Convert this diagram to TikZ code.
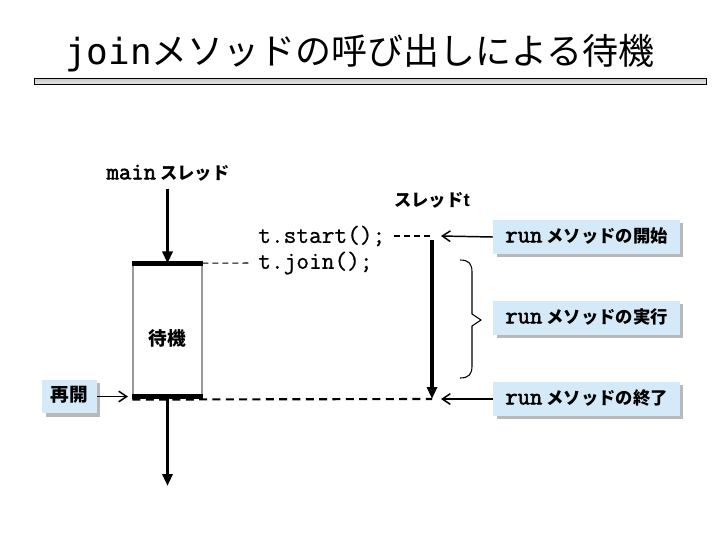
\documentclass[tikz,border=0pt]{standalone}
\usepackage{fontspec}
\setmainfont{Liberation Sans}
\newfontfamily\jp{Noto Sans CJK JP}
\newfontfamily\tmono{DejaVu Sans Mono}
\newfontfamily\cm[FakeBold=0.8]{Latin Modern Mono}
\newfontfamily\cmb[FakeBold=2.2]{Latin Modern Mono}
\usetikzlibrary{arrows.meta,shadows,calc}
\definecolor{boxblue}{RGB}{213,234,248}
\definecolor{shadowgray}{RGB}{185,185,185}
\tikzset{
  bluebox/.style={fill=boxblue, inner sep=0pt, text height=10pt, text depth=2pt,
    drop shadow={shadow xshift=2.6pt, shadow yshift=-2.6pt, fill=shadowgray, opacity=1}},
  runbox/.style={bluebox, minimum width=140pt, minimum height=25.5pt},
  lbl/.style={inner sep=1pt, font=\jp\bfseries\fontsize{13pt}{15pt}\selectfont},
  codetext/.style={inner sep=0pt, anchor=west, font=\cm\fontsize{18.5pt}{20pt}\selectfont},
  flow/.style={line width=2.3pt, -{Triangle[length=9pt,width=7.5pt]}},
  pointer/.style={line width=1.1pt, -{Straight Barb[length=6pt,width=8pt,line width=1.1pt]}},
  thinDash/.style={line width=0.8pt, dash pattern=on 4.5pt off 3pt},
  thickDash/.style={line width=1.6pt, dash pattern=on 6pt off 4pt},
  bar/.style={line width=3.6pt, line cap=butt}
}
\newcommand{\rc}[1]{{\cmb\fontsize{18pt}{20pt}\selectfont #1}}
\begin{document}
\begin{tikzpicture}[x=0.75pt,y=-0.75pt]
\useasboundingbox (0,0) rectangle (720,540);
% title
\node (title) at (360,53) {\fontsize{27pt}{30pt}\selectfont{\tmono join}{\jp メソッドの呼び出しによる待機}};
\shade[draw=black, line width=0.7pt, top color=white!78!black, bottom color=white!90!black] (34,78) rectangle (706,84);

% main thread
\node[lbl] (main) at (168,173) {\rc{main} スレッド};
\node[draw=white!60!black, line width=0.8pt, minimum width=51.75pt, minimum height=99pt, inner sep=0pt]
  (wait) at (167.5,330) {};
\node[lbl, font=\jp\bfseries\fontsize{14pt}{16pt}\selectfont] (waitlbl) at (167.5,338) {待機};
\draw[bar] (wait.north west) -- (wait.north east);
\draw[bar] (wait.south west) -- (wait.south east);
\coordinate (mtop) at (wait.north |- main.south);
\draw[flow] ($(mtop)+(0,6)$) -- (wait.north);
\coordinate (mend) at (167.5,486);
\draw[flow] (wait.south) -- (mend);

% code lines
\node[codetext] (startcode) at (258,236) {t.start();};
\node[codetext] (joincode) at (258,263) {t.join();};
\draw[thinDash] (wait.north west) -- ($(joincode.west)+(-8,0)$);

% thread t
\node[lbl] (tlbl) at (432,200) {スレッド{\rmfamily\bfseries\fontsize{14pt}{16pt}\selectfont t}};
\coordinate (tstart) at (432,236);
\coordinate (ttop) at (432,240);
\coordinate (tend) at (432,399);
\draw[thinDash] ($(startcode.east)+(8,0)$) -- (tstart);
\draw[flow] (ttop) -- (tend);
\draw[thickDash] ($(wait.south west)+(0,3)$) -- (tend);

% brace
\draw[line width=0.8pt] (460,260) .. controls (469,260) and (472,264) .. (472,272)
  -- (472,314) -- (481,320) -- (472,326) -- (472,366)
  .. controls (472,374) and (469,378) .. (460,378);

% boxes
\node[runbox, lbl] (runstart) at (586.5,237) {\rc{run} メソッドの開始};
\node[runbox, lbl] (runexec) at (586.5,318) {\rc{run} メソッドの実行};
\node[runbox, lbl] (runend) at (586.5,399) {\rc{run} メソッドの終了};
\node[bluebox, lbl, minimum width=41pt, minimum height=25pt, font=\jp\bfseries\fontsize{14pt}{16pt}\selectfont] (resume) at (69.5,396.5) {再開};

\coordinate (p1) at (441,236);
\coordinate (p3) at (441,399);
\coordinate (p4) at (128,396.5);
\draw[pointer] (runstart.west) -- (p1);
\draw[pointer] (runend.west) -- (p3);
\draw[pointer] (resume.east) -- (p4);
\end{tikzpicture}
\end{document}
